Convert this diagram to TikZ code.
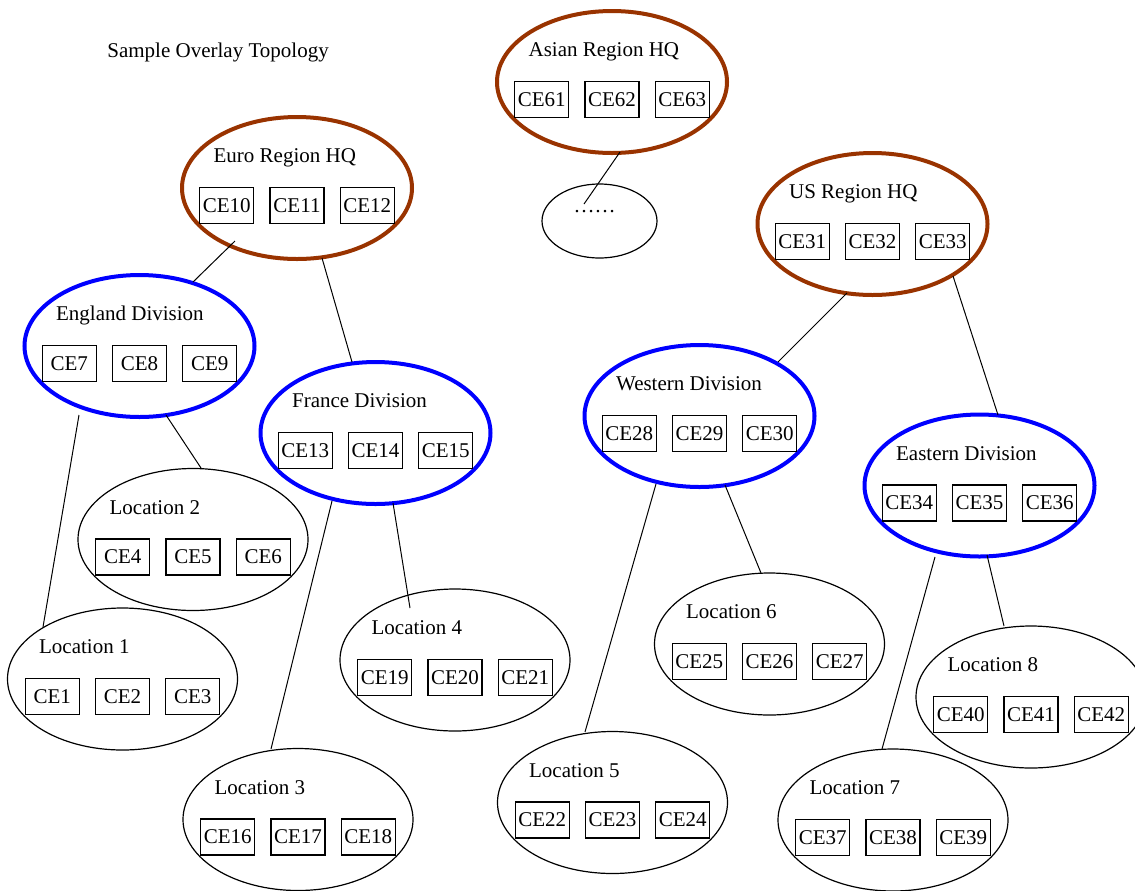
\documentclass[tikz,border=0pt]{standalone}
\usepackage{fontspec}
\setmainfont{Liberation Serif}
\usetikzlibrary{positioning,shapes.geometric,calc}

\definecolor{hqbrown}{RGB}{153,51,0}

\begin{document}
\begin{tikzpicture}[x=0.5pt, y=-0.5pt, font=\fontsize{10.5}{12.6}\selectfont]
\tikzset{
  grp/.style={ellipse, inner sep=0pt, minimum width=115pt, minimum height=71pt},
  hq/.style={grp, draw=hqbrown, line width=2pt},
  div/.style={grp, draw=blue, line width=2pt},
  loc/.style={grp, draw=black, line width=0.6pt},
  ce/.style={draw, line width=0.6pt, inner sep=0pt, minimum width=27pt, minimum height=18pt},
  gtitle/.style={anchor=base west, inner sep=0pt},
  link/.style={line width=0.5pt},
}
\clip (0,0) rectangle (1135,890);

\node[gtitle] (heading) at (107,57) {Sample Overlay Topology};

% ---- groups: name / centre / style / title / first CE ----
\foreach \nm/\cx/\cy/\sty/\ttl/\n in {
    euro/297/188/hq/Euro Region HQ/10,
    asia/612/82/hq/Asian Region HQ/61,
    us/872.5/224/hq/US Region HQ/31,
    eng/139.5/346/div/England Division/7,
    fra/375.5/433/div/France Division/13,
    west/699.5/416/div/Western Division/28,
    east/979.5/485.5/div/Eastern Division/34,
    loc1/122.5/679/loc/Location 1/1,
    loc2/193/539.5/loc/Location 2/4,
    loc3/298/819.5/loc/Location 3/16,
    loc4/455/660/loc/Location 4/19,
    loc5/612.5/802.5/loc/Location 5/22,
    loc6/769.5/644/loc/Location 6/25,
    loc7/893/820/loc/Location 7/37,
    loc8/1031/697/loc/Location 8/40}{
  \pgfmathtruncatemacro{\na}{\n}
  \pgfmathtruncatemacro{\nb}{\n+1}
  \pgfmathtruncatemacro{\nc}{\n+2}
  \node[\sty] (\nm) at (\cx,\cy) {};
  \node[ce] (\nm-b) at (\cx,\cy+17.5) {CE\nb};
  \node[ce, left=7.5pt of \nm-b] (\nm-a) {CE\na};
  \node[ce, right=7.5pt of \nm-b] (\nm-c) {CE\nc};
  \node[gtitle] (\nm-t) at ($(\nm-a.north west)+(14,-24)$) {\ttl};
}

% ---- the Asian region's unnamed child ----
\node[loc, minimum width=57.5pt, minimum height=37pt] (asia-more) at (599.5,221) {};
\node[inner sep=0pt] (asia-dots) at (594.5,211.5) {……};

% ---- links: from / offset / to / offset ----
\foreach \s/\sx/\sy/\t/\tx/\ty in {
    euro/-62/53/eng/53.5/-64,
    euro/25/70/fra/-23.5/-71,
    eng/-60.5/69/loc1/-79.5/-52,
    eng/26.5/69/loc2/8/-71.5,
    fra/-43.5/68/loc3/-27/-70.5,
    fra/17.5/70/loc4/-45/-52,
    asia/8/70/asia-more/-15.5/-17,
    us/-25.5/69/west/78.5/-54,
    us/80.5/52/east/18.5/-70.5,
    west/-43.5/68/loc5/-27.5/-70.5,
    west/25.5/69/loc6/-8.5/-71,
    east/-44.5/71.5/loc7/-11/-71,
    east/7.5/69.5/loc8/-27/-71}{
  \draw[link] ($(\s)+(\sx,\sy)$) -- ($(\t)+(\tx,\ty)$);
}
\end{tikzpicture}
\end{document}
